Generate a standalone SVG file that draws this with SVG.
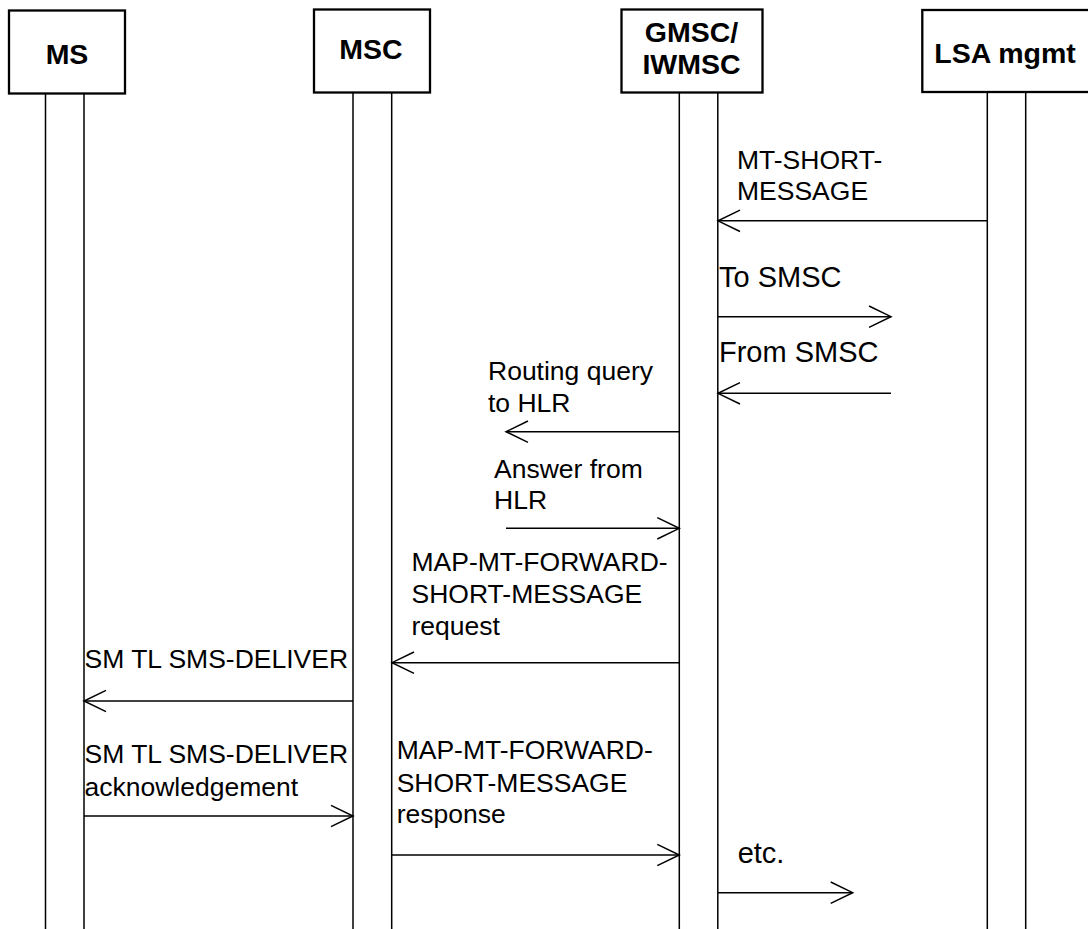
<svg xmlns="http://www.w3.org/2000/svg" width="1088" height="929" viewBox="0 0 1088 929">
<style>
.box{fill:#fff;stroke:#000;stroke-width:2.3}
.life{stroke:#000;stroke-width:1.5}
.msg{stroke:#000;stroke-width:1.5;fill:none;marker-end:url(#arr)}
.hd{font-family:"Liberation Sans",Arial,sans-serif;font-weight:bold;font-size:28.5px;fill:#000;text-anchor:middle}
.lb{font-family:"Liberation Sans",Arial,sans-serif;font-size:26.5px;fill:#000}
.lb2{font-family:"Liberation Sans",Arial,sans-serif;font-size:29px;fill:#000}
</style>
<defs>
<marker id="arr" viewBox="-24 -12 26 24" refX="0" refY="0" markerWidth="26" markerHeight="24" markerUnits="userSpaceOnUse" orient="auto">
<path d="M-22,-10.7 L0,0 L-22,10.7" fill="none" stroke="#000" stroke-width="1.5"/>
</marker>
</defs>
<rect width="1088" height="929" fill="#fff"/>
<g id="node-ms">
<rect class="box" x="9" y="10.5" width="116" height="83"/>
<text class="hd" x="67" y="63.5">MS</text>
<line class="life" x1="45.5" y1="93.5" x2="45.5" y2="929"/>
<line class="life" x1="84" y1="93.5" x2="84" y2="929"/>
</g>
<g id="node-msc">
<rect class="box" x="314" y="9.5" width="116" height="83"/>
<text class="hd" x="371" y="58.5">MSC</text>
<line class="life" x1="353" y1="92.5" x2="353" y2="929"/>
<line class="life" x1="391.7" y1="92.5" x2="391.7" y2="929"/>
</g>
<g id="node-gmsc">
<rect class="box" x="621.5" y="9.5" width="141" height="83"/>
<text class="hd" x="691.5" y="41.7">GMSC/</text>
<text class="hd" x="691.5" y="74">IWMSC</text>
<line class="life" x1="679.3" y1="92.5" x2="679.3" y2="929"/>
<line class="life" x1="717.8" y1="92.5" x2="717.8" y2="929"/>
</g>
<g id="node-lsa">
<rect class="box" x="922.3" y="10" width="170" height="82"/>
<text class="hd" x="1005" y="62.7">LSA mgmt</text>
<line class="life" x1="987.3" y1="92" x2="987.3" y2="929"/>
<line class="life" x1="1025.7" y1="92" x2="1025.7" y2="929"/>
</g>
<g id="connectors">
<line class="msg" x1="987.3" y1="220.8" x2="718" y2="220.8"/>
<line class="msg" x1="718" y1="316.7" x2="891" y2="316.7"/>
<line class="msg" x1="891" y1="393.3" x2="718" y2="393.3"/>
<line class="msg" x1="679.3" y1="431.7" x2="506" y2="431.7"/>
<line class="msg" x1="506" y1="528.3" x2="679.3" y2="528.3"/>
<line class="msg" x1="679.3" y1="662.7" x2="392" y2="662.7"/>
<line class="msg" x1="353" y1="701" x2="84" y2="701"/>
<line class="msg" x1="84" y1="816" x2="353" y2="816"/>
<line class="msg" x1="392" y1="855" x2="679.3" y2="855"/>
<line class="msg" x1="718" y1="892.7" x2="852.7" y2="892.7"/>
</g>
<g id="labels">
<text class="lb" x="737" y="169">MT-SHORT-</text>
<text class="lb" x="737" y="200">MESSAGE</text>
<text class="lb2" x="719" y="287">To SMSC</text>
<text class="lb2" x="719" y="362.3">From SMSC</text>
<text class="lb" x="488" y="380">Routing query</text>
<text class="lb" x="488" y="411.7">to HLR</text>
<text class="lb" x="494" y="477.7">Answer from</text>
<text class="lb" x="494" y="509.3">HLR</text>
<text class="lb" x="411.5" y="571">MAP-MT-FORWARD-</text>
<text class="lb" x="411.5" y="603.3">SHORT-MESSAGE</text>
<text class="lb" x="411.5" y="635">request</text>
<text class="lb" x="84.5" y="667.7">SM TL SMS-DELIVER</text>
<text class="lb" x="84.5" y="763.3">SM TL SMS-DELIVER</text>
<text class="lb" x="84.5" y="795.7">acknowledgement</text>
<text class="lb" x="396.7" y="759">MAP-MT-FORWARD-</text>
<text class="lb" x="396.7" y="791.7">SHORT-MESSAGE</text>
<text class="lb" x="396.7" y="823">response</text>
<text class="lb2" x="737.7" y="862.7">etc.</text>
</g>
</svg>
